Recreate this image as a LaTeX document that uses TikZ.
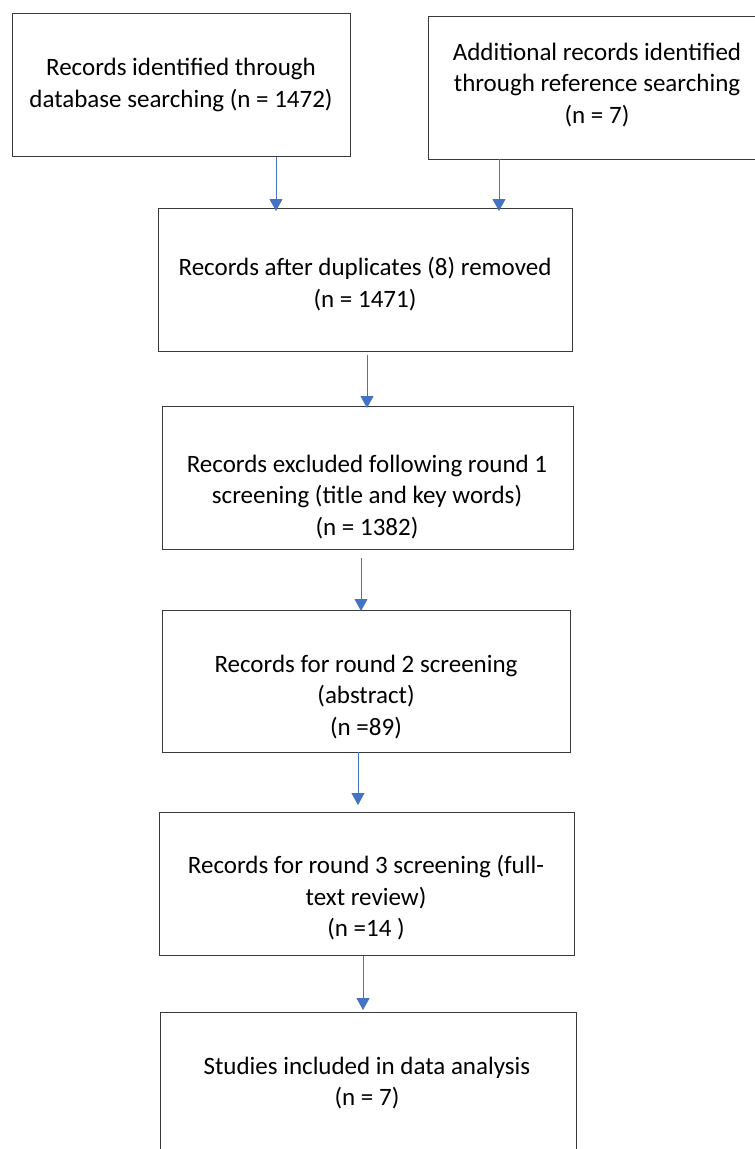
\documentclass[tikz,border=0pt]{standalone}
\usepackage{fontspec}
\setmainfont{Carlito}
\usetikzlibrary{arrows.meta}
\definecolor{arrblue}{HTML}{4472C4}
\definecolor{boxline}{HTML}{3A3A3A}
\tikzset{
  box/.style={draw=boxline, line width=1pt, rectangle, inner sep=0pt},
  txt/.style={align=center, inner sep=0pt, font=\fontsize{25}{31.5}\selectfont, text=black},
  arr/.style={draw=arrblue, line width=0.9pt, -{Triangle[width=13pt,length=12pt]}}
}
\begin{document}
\begin{tikzpicture}[x=1pt,y=-1pt]
\useasboundingbox (0,0) rectangle (755,1149);
\fill[white] (0,0) rectangle (755,1149);
\clip (0,0) rectangle (755,1149);
% boxes
\node[box, minimum width=338pt, minimum height=143pt] (A) at (181,84.5) {};
\node[box, minimum width=340pt, minimum height=143pt] (B) at (598,87.5) {};
\node[box, minimum width=414pt, minimum height=143pt] (C) at (365,279.5) {};
\node[box, minimum width=411pt, minimum height=143pt] (D) at (367.5,477.5) {};
\node[box, minimum width=408pt, minimum height=142pt] (E) at (366.5,681) {};
\node[box, minimum width=415pt, minimum height=143pt] (F) at (366.5,883.5) {};
\node[box, minimum width=416pt, minimum height=143pt] (G) at (368,1083.5) {};
% texts
\node[txt] (At) at (181,85) {Records identified through\\database searching (n = 1472)};
\node[txt] (Bt) at (597,85) {Additional records identified\\through reference searching\\(n = 7)};
\node[txt] (Ct) at (365,284) {Records after duplicates (8) removed\\(n = 1471)};
\node[txt] (Dt) at (367,497) {Records excluded following round 1\\screening (title and key words)\\(n = 1382)};
\node[txt] (Et) at (366,697) {Records for round 2 screening\\(abstract)\\(n =89)};
\node[txt] (Ft) at (366,898) {Records for round 3 screening (full-\\text review)\\(n =14 )};
\node[txt] (Gt) at (367,1083) {Studies included in data analysis\\(n = 7)};
% arrow ends
\coordinate (a1) at (276,157);  \coordinate (a2) at (276,211);
\coordinate (b1) at (499,159);  \coordinate (b2) at (499,211);
\coordinate (c1) at (367,355);  \coordinate (c2) at (367,408);
\coordinate (d1) at (361,558);  \coordinate (d2) at (361,611);
\coordinate (e1) at (358,752);  \coordinate (e2) at (358,805);
\coordinate (f1) at (363,956);  \coordinate (f2) at (363,1010);
\draw[arr] (a1) -- (a2);
\draw[arr] (b1) -- (b2);
\draw[arr] (c1) -- (c2);
\draw[arr] (d1) -- (d2);
\draw[arr] (e1) -- (e2);
\draw[arr] (f1) -- (f2);
\end{tikzpicture}
\end{document}
